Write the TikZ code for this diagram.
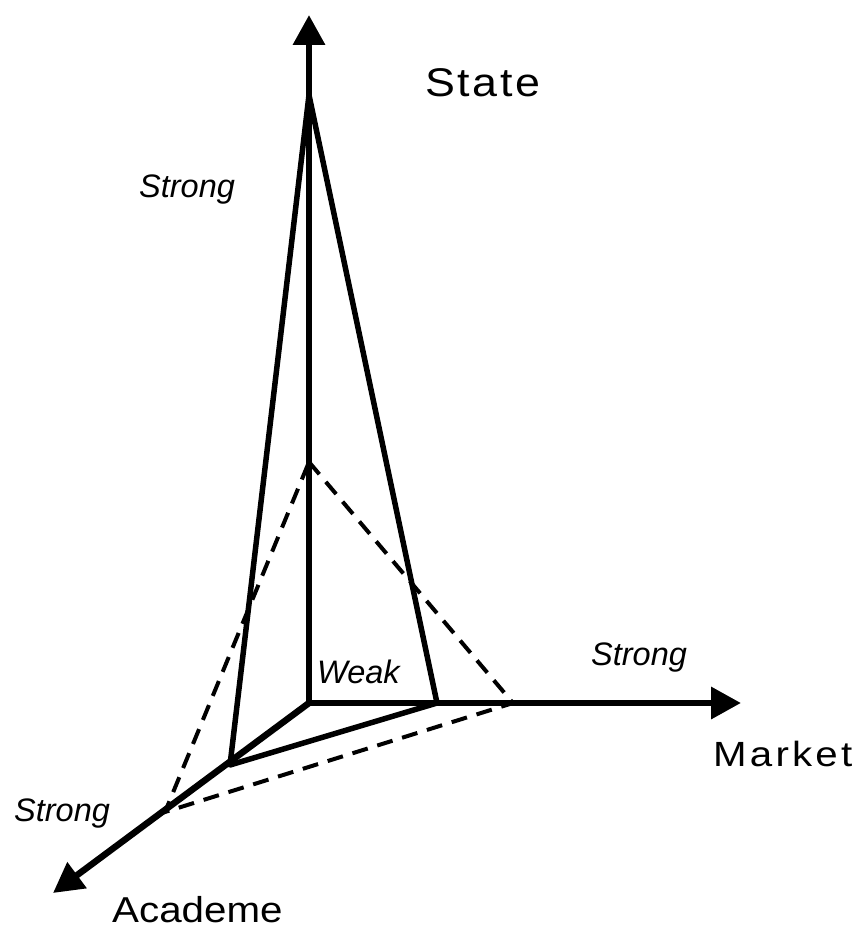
\documentclass[tikz,border=0pt]{standalone}
\usepackage{fontspec}
\usepackage{graphicx}
\setmainfont{Liberation Sans}
\newfontfamily\stfont[LetterSpace=6]{Liberation Sans}
\newfontfamily\mkfont[LetterSpace=8]{Liberation Sans}
\usetikzlibrary{arrows.meta}
\begin{document}
\begin{tikzpicture}[x=1pt,y=-1pt,
  axis/.style={line width=6.5pt,-{Triangle[length=30pt,width=31pt]}},
  solidtri/.style={line width=5.5pt,line join=round},
  dashtri/.style={line width=4pt,dash pattern=on 16pt off 10pt},
  axlabel/.style={inner sep=0pt,anchor=base west},
  lvl/.style={inner sep=0pt,anchor=base west,font=\itshape\fontsize{32.5}{34}\selectfont}]
\useasboundingbox (0,0) rectangle (859,928);
% axis points
\coordinate (O) at (309,703);
\coordinate (Stip) at (309,15);
\coordinate (Mtip) at (741,703);
\coordinate (Atip) at (53,893);
% solid triangle
\coordinate (s1) at (309,95);
\coordinate (m1) at (437,703);
\coordinate (a1) at (230,765);
% dashed triangle
\coordinate (s2) at (309,462);
\coordinate (m2) at (513,703);
\coordinate (a2) at (165,812);
% axes
\draw[axis] (O) -- (Stip);
\draw[axis] (O) -- (Mtip);
\draw[axis] (O) -- (Atip);
% triangles
\draw[dashtri] (s2) -- (m2) -- (a2) -- cycle;
\draw[solidtri] (s1) -- (m1) -- (a1) -- cycle;
% labels
\node[axlabel] (state) at (425,97) {\scalebox{1.12}[1]{\stfont\fontsize{40}{42}\selectfont State}};
\node[axlabel] (market) at (713,766) {\scalebox{1.15}[1]{\mkfont\fontsize{35}{37}\selectfont Market}};
\node[axlabel] (academe) at (112,922) {\scalebox{1.12}[1]{\fontsize{36}{38}\selectfont Academe}};
\node[lvl] (strongS) at (139,197) {Strong};
\node[lvl] (strongM) at (591,665) {Strong};
\node[lvl] (strongA) at (14,821) {Strong};
\node[lvl] (weak) at (317,683) {Weak};
\end{tikzpicture}
\end{document}
